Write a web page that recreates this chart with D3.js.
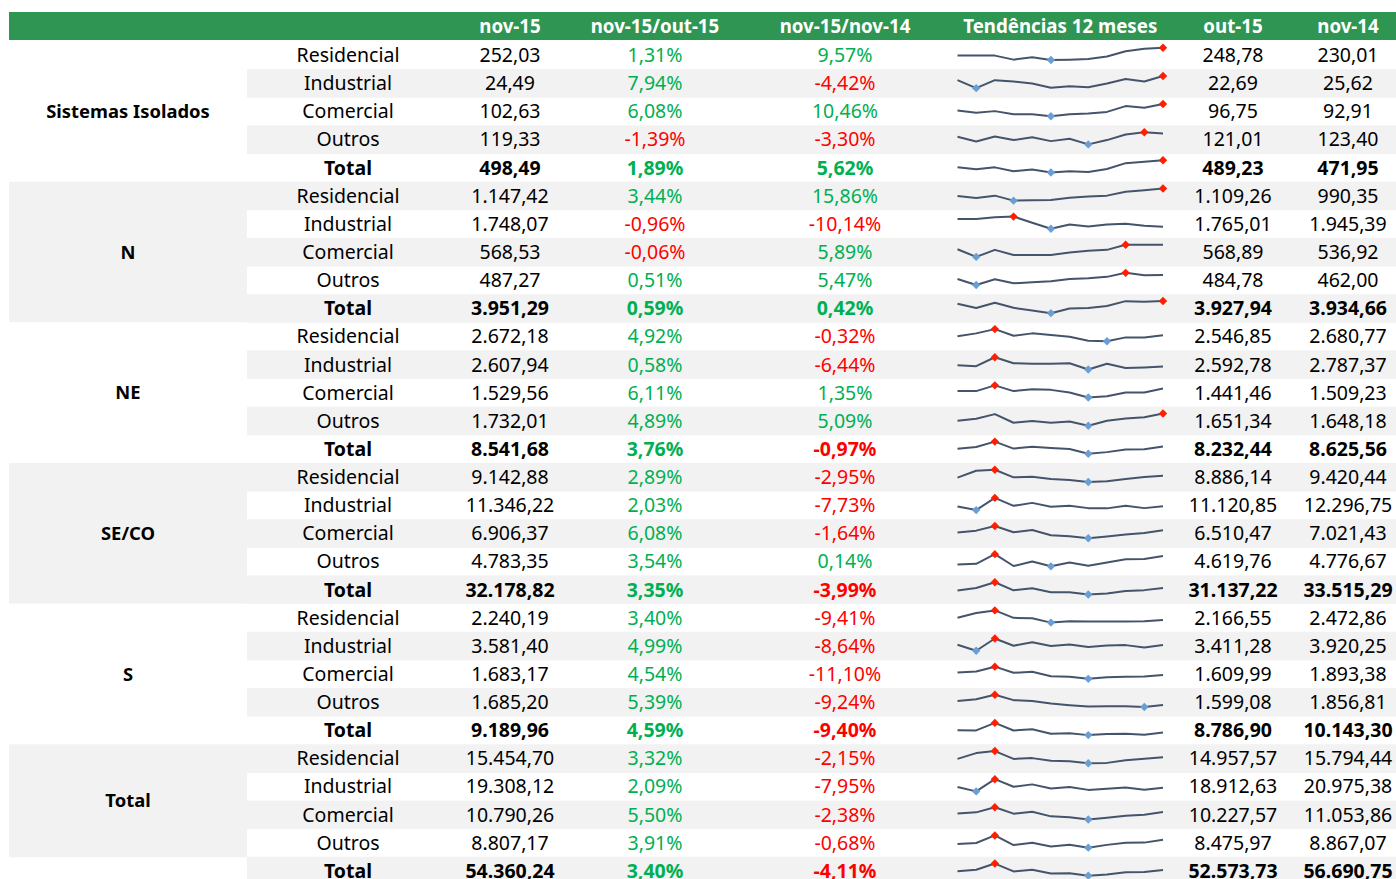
<!DOCTYPE html>
<html>
<head>
<meta charset="utf-8">
<script src="https://cdn.jsdelivr.net/npm/d3@7"></script>
<style>
  html, body { margin: 0; padding: 0; background: #fff; }
  svg text { font-family: "Noto Sans", "Open Sans", sans-serif; font-size: 19.5px; }
  svg text.head { font-size: 18.7px; }
  svg text.grp { font-size: 18.4px; }
</style>
</head>
<body>
<svg id="chart" width="1396" height="879"></svg>
<script>
// Consumo de energia por subsistema e classe

const headers = ["nov-15", "nov-15/out-15", "nov-15/nov-14", "Tendências 12 meses", "out-15", "nov-14"];

const groups = ["Sistemas Isolados", "N", "NE", "SE/CO", "S", "Total"];
const groupSizes = [5, 5, 5, 5, 5, 4];

const categories = [
  "Residencial", "Industrial", "Comercial", "Outros", "Total",
  "Residencial", "Industrial", "Comercial", "Outros", "Total",
  "Residencial", "Industrial", "Comercial", "Outros", "Total",
  "Residencial", "Industrial", "Comercial", "Outros", "Total",
  "Residencial", "Industrial", "Comercial", "Outros", "Total",
  "Residencial", "Industrial", "Comercial", "Outros", "Total"
];

const nov15 = [
  252.03, 24.49, 102.63, 119.33, 498.49,
  1147.42, 1748.07, 568.53, 487.27, 3951.29,
  2672.18, 2607.94, 1529.56, 1732.01, 8541.68,
  9142.88, 11346.22, 6906.37, 4783.35, 32178.82,
  2240.19, 3581.40, 1683.17, 1685.20, 9189.96,
  15454.70, 19308.12, 10790.26, 8807.17, 54360.24
];

const varOut = [
  1.31, 7.94, 6.08, -1.39, 1.89,
  3.44, -0.96, -0.06, 0.51, 0.59,
  4.92, 0.58, 6.11, 4.89, 3.76,
  2.89, 2.03, 6.08, 3.54, 3.35,
  3.40, 4.99, 4.54, 5.39, 4.59,
  3.32, 2.09, 5.50, 3.91, 3.40
];

const varNov = [
  9.57, -4.42, 10.46, -3.30, 5.62,
  15.86, -10.14, 5.89, 5.47, 0.42,
  -0.32, -6.44, 1.35, 5.09, -0.97,
  -2.95, -7.73, -1.64, 0.14, -3.99,
  -9.41, -8.64, -11.10, -9.24, -9.40,
  -2.15, -7.95, -2.38, -0.68, -4.11
];

const out15 = [
  248.78, 22.69, 96.75, 121.01, 489.23,
  1109.26, 1765.01, 568.89, 484.78, 3927.94,
  2546.85, 2592.78, 1441.46, 1651.34, 8232.44,
  8886.14, 11120.85, 6510.47, 4619.76, 31137.22,
  2166.55, 3411.28, 1609.99, 1599.08, 8786.90,
  14957.57, 18912.63, 10227.57, 8475.97, 52573.73
];

const nov14 = [
  230.01, 25.62, 92.91, 123.40, 471.95,
  990.35, 1945.39, 536.92, 462.00, 3934.66,
  2680.77, 2787.37, 1509.23, 1648.18, 8625.56,
  9420.44, 12296.75, 7021.43, 4776.67, 33515.29,
  2472.86, 3920.25, 1893.38, 1856.81, 10143.30,
  15794.44, 20975.38, 11053.86, 8867.07, 56690.75
];

// 12 meses (dez-14 a nov-15), valores estimados a partir das linhas
const trends = [
  [226.0, 226.0, 226.0, 212.6, 220.3, 211.4, 212.6, 214.6, 222.8, 240.6, 248.8, 252.0],
  [23.1, 20.5, 23.1, 22.7, 22.0, 20.6, 21.1, 20.8, 22.0, 23.5, 22.7, 24.5],
  [92.5, 88.9, 91.6, 86.8, 86.8, 83.6, 86.8, 87.8, 90.4, 99.4, 96.7, 102.6],
  [115.2, 109.4, 115.6, 111.1, 114.7, 109.8, 112.7, 105.7, 111.1, 118.1, 121.0, 119.3],
  [456.8, 444.8, 456.3, 433.2, 443.8, 425.4, 433.2, 428.9, 446.3, 481.6, 489.2, 498.5],

  [978.4, 934.8, 986.6, 874.8, 883.0, 888.4, 940.2, 970.2, 986.6, 1073.8, 1109.3, 1147.4],
  [1885.8, 1885.8, 1915.4, 1926.0, 1818.0, 1714.2, 1788.3, 1754.4, 1788.3, 1801.0, 1765.0, 1748.1],
  [532.0, 469.0, 527.0, 485.0, 485.0, 485.0, 506.0, 519.0, 527.0, 569.5, 568.9, 568.5],
  [460.9, 420.9, 458.5, 432.1, 438.5, 445.7, 460.9, 465.7, 474.5, 500.9, 484.8, 487.3],
  [3857.1, 3710.5, 3887.5, 3717.9, 3624.5, 3533.3, 3695.4, 3709.3, 3776.4, 3945.2, 3927.9, 3951.3],

  [2616, 2784, 3029, 2651, 2784, 2686, 2595, 2364, 2329, 2553, 2546.9, 2672.2],
  [2628.5, 2613.3, 2752, 2658.9, 2649.4, 2649.4, 2658.9, 2562, 2649.4, 2582.9, 2592.8, 2607.9],
  [1471.8, 1471.8, 1601, 1471.8, 1513, 1499.3, 1441.5, 1326, 1356.3, 1441.5, 1441.5, 1529.6],
  [1573.3, 1616.3, 1718.6, 1527.6, 1565.2, 1527.6, 1557.2, 1463, 1573.3, 1621.7, 1651.3, 1732.0],
  [8289.6, 8485.4, 9100.6, 8309.3, 8511.6, 8362.3, 8252.6, 7715, 7908, 8199.1, 8232.4, 8541.7],

  [8743, 10168, 10368, 8818, 8943, 8468, 8268, 7868, 7993, 8468, 8886.1, 9142.9],
  [11318, 10895, 12304, 11388, 11726, 11275, 11388, 11120, 11092, 11388, 11120.9, 11346.2],
  [6564, 6852, 7536, 6618, 6960, 6168, 6024, 5736, 5988, 6276, 6510.5, 6906.4],
  [4300, 4335, 4897, 4207, 4463, 4186, 4414, 4222, 4414, 4598, 4619.8, 4783.4],
  [30925, 32250, 35105, 31031, 32092, 30097, 30094, 28946, 29487, 30730, 31137.2, 32178.8],

  [2354, 2615, 2762, 2354, 2334, 2093, 2167, 2147, 2147, 2147, 2166.6, 2240.2],
  [3606.5, 3190, 4040, 3538.5, 3785, 3513, 3623.5, 3445, 3555.5, 3581, 3411.3, 3581.4],
  [1798.5, 1842.5, 2057, 1782, 1826, 1622.5, 1606, 1507, 1578.5, 1606, 1610.0, 1683.2],
  [1874, 1951, 2149, 1907, 1874, 1753, 1676, 1616, 1632, 1632, 1599.1, 1685.2],
  [9633, 9598.5, 11008, 9581.5, 9819, 8981.5, 9072.5, 8715, 8913, 8966, 8786.9, 9190.0],

  [14917.4, 16727.8, 17371.6, 14910.4, 15164.3, 14346.8, 14182.8, 13563.8, 13678.4, 14482.4, 14957.6, 15454.7],
  [19461.9, 18604.6, 21034.5, 19534.1, 20000.4, 19172.2, 19479.8, 18902.2, 19107.2, 19376.4, 18912.6, 19308.1],
  [10458.8, 10724.2, 11812.6, 10443.6, 10870.8, 9858.4, 9664.3, 9175.8, 9540.2, 9992.4, 10227.6, 10790.3],
  [8323.4, 8432.6, 9338.7, 8184.8, 8455.4, 8022.1, 8220.8, 7872.4, 8204.9, 8470.7, 8476.0, 8807.2],
  [53161.5, 54489.2, 59557.4, 53072.9, 54490.9, 51399.5, 51547.7, 49514.2, 50530.7, 52321.9, 52573.7, 54360.2]
];

// ---- layout ----
const W = 1396, H = 879;
const left = 9, headerTop = 12, headerH = 28;
const rowTop = 41, rowH = 28.13;
const catLeft = 247;
const colX = { group: 128, cat: 348, nov15: 510, varOut: 655, varNov: 845, spark: [957.5, 1163], out15: 1233, nov14: 1348 };

const GREEN_HEAD = "#2f9552";
const GREEN = "#00b050";
const RED = "#ff0000";
const GRAY = "#f2f2f2";
const LINE = "#44546a";

const locale = d3.formatLocale({ decimal: ",", thousands: ".", grouping: [3], currency: ["", ""], minus: "-" });
const fmtNum = locale.format(",.2f");
const fmtPct = v => locale.format(".2f")(v) + "%";

const svg = d3.select("#chart");

const y = d3.scaleBand()
  .domain(d3.range(categories.length))
  .range([rowTop, rowTop + rowH * categories.length])
  .paddingInner(0);

// cabeçalho
svg.append("rect")
  .attr("x", left).attr("y", headerTop)
  .attr("width", W - left).attr("height", headerH)
  .attr("fill", GREEN_HEAD);

const headX = [colX.nov15, colX.varOut, colX.varNov, (colX.spark[0] + colX.spark[1]) / 2, colX.out15, colX.nov14];
svg.append("g").selectAll("text")
  .data(headers)
  .join("text")
  .attr("class", "head")
  .attr("x", (d, i) => headX[i])
  .attr("y", headerTop + headerH / 2)
  .attr("dy", "0.36em")
  .attr("text-anchor", "middle")
  .attr("fill", "#fff")
  .attr("font-weight", "bold")
  .text(d => d);

// fundos das linhas (alternado)
svg.append("g").selectAll("rect")
  .data(d3.range(categories.length).filter(i => i % 2 === 1))
  .join("rect")
  .attr("x", catLeft)
  .attr("y", i => y(i))
  .attr("width", W - catLeft)
  .attr("height", y.bandwidth() + 0.5)
  .attr("fill", GRAY);

// blocos dos grupos
const groupStarts = groupSizes.map((s, i) => d3.sum(groupSizes.slice(0, i)));
const groupData = groups.map((g, i) => ({ name: g, start: groupStarts[i], size: groupSizes[i], idx: i }));
const gGroups = svg.append("g");
gGroups.selectAll("rect")
  .data(groupData)
  .join("rect")
  .attr("x", left)
  .attr("y", d => y(d.start))
  .attr("width", catLeft - left)
  .attr("height", d => y.bandwidth() * d.size + 0.5)
  .attr("fill", d => d.idx % 2 === 1 ? GRAY : "#fff");

gGroups.selectAll("text")
  .data(groupData)
  .join("text")
  .attr("class", "grp")
  .attr("x", colX.group)
  .attr("y", d => y(d.start) + y.bandwidth() * d.size / 2)
  .attr("dy", "0.36em")
  .attr("text-anchor", "middle")
  .attr("font-weight", "bold")
  .attr("fill", "#000")
  .text(d => d.name);

// linhas da tabela
const rows = svg.append("g").selectAll("g.row")
  .data(d3.range(categories.length))
  .join("g")
  .attr("class", "row")
  .attr("transform", i => `translate(0, ${y(i) + y.bandwidth() / 2})`)
  .attr("font-weight", i => categories[i] === "Total" ? "bold" : "normal");

function cell(x, text, color) {
  rows.append("text")
    .attr("x", x)
    .attr("dy", "0.36em")
    .attr("text-anchor", "middle")
    .attr("fill", color)
    .text(text);
}

cell(colX.cat, i => categories[i], "#000");
cell(colX.nov15, i => fmtNum(nov15[i]), "#000");
cell(colX.varOut, i => fmtPct(varOut[i]), i => varOut[i] < 0 ? RED : GREEN);
cell(colX.varNov, i => fmtPct(varNov[i]), i => varNov[i] < 0 ? RED : GREEN);
cell(colX.out15, i => fmtNum(out15[i]), "#000");
cell(colX.nov14, i => fmtNum(nov14[i]), "#000");

// minigráficos
const x = d3.scaleLinear().domain([0, 11]).range(colX.spark);
const diamond = "M0,-4.2L4.2,0L0,4.2L-4.2,0Z";

rows.each(function(i) {
  const vals = trends[i];
  const top = -y.bandwidth() / 2;
  const sy = d3.scaleLinear().domain(d3.extent(vals)).range([top + 19, top + 6.8]);
  const g = d3.select(this).append("g");

  g.append("path")
    .datum(vals)
    .attr("fill", "none")
    .attr("stroke", LINE)
    .attr("stroke-width", 2)
    .attr("stroke-linejoin", "round")
    .attr("d", d3.line().x((d, k) => x(k)).y(d => sy(d)));

  const iMax = d3.maxIndex(vals), iMin = d3.minIndex(vals);
  g.append("path")
    .attr("d", diamond)
    .attr("transform", `translate(${x(iMin)}, ${sy(vals[iMin])})`)
    .attr("fill", "#6a9fd6");
  g.append("path")
    .attr("d", diamond)
    .attr("transform", `translate(${x(iMax)}, ${sy(vals[iMax])})`)
    .attr("fill", "#ff1f00");
});
</script>
</body>
</html>
